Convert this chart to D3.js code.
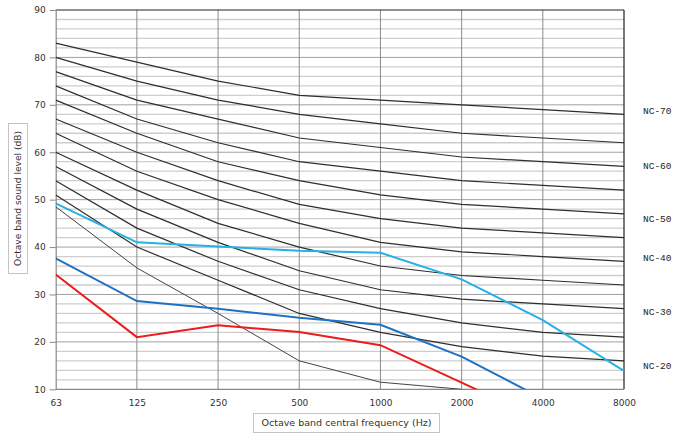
<!DOCTYPE html>
<html>
<head>
<meta charset="utf-8">
<script src="https://cdn.jsdelivr.net/npm/d3@7/dist/d3.min.js"></script>
<style>
  html, body { margin: 0; padding: 0; background: #fff; }
  svg { display: block; }
</style>
</head>
<body>
<svg id="chart" width="684" height="436"></svg>
<script>
// ---------------- DATA ----------------
const frequencies = ["63", "125", "250", "500", "1000", "2000", "4000", "8000"];
const yTicks = [10, 20, 30, 40, 50, 60, 70, 80, 90];

const nc70 = [83, 79, 75, 72, 71, 70, 69, 68];
const nc65 = [80, 75, 71, 68, 66, 64, 63, 62];
const nc60 = [77, 71, 67, 63, 61, 59, 58, 57];
const nc55 = [74, 67, 62, 58, 56, 54, 53, 52];
const nc50 = [71, 64, 58, 54, 51, 49, 48, 47];
const nc45 = [67, 60, 54, 49, 46, 44, 43, 42];
const nc40 = [64, 56, 50, 45, 41, 39, 38, 37];
const nc35 = [60, 52, 45, 40, 36, 34, 33, 32];
const nc30 = [57, 48, 41, 35, 31, 29, 28, 27];
const nc25 = [54, 44, 37, 31, 27, 24, 22, 21];
const nc20 = [51, 40, 33, 26, 22, 19, 17, 16];
const lowestCurve = [48.5, 35.6, 26, 16, 11.5, 10];

const ncCurves = [nc70, nc65, nc60, nc55, nc50, nc45, nc40, nc35, nc30, nc25, nc20];

const ncLabels = ["NC-70", "NC-60", "NC-50", "NC-40", "NC-30", "NC-20"];
const ncLabelLevels = [68.5, 57.1, 45.9, 37.5, 26.3, 14.9];

const measuredCyan = [49.2, 41, 40.1, 39.2, 38.8, 33.2, 24.6, 13.9];
const measuredBlue = [37.6, 28.6, 27, 25.1, 23.6, 16.9, 8];
const measuredRed  = [34.2, 21, 23.5, 22.1, 19.3, 11.4, 3.5];

const xTitle = "Octave band central frequency (Hz)";
const yTitle = "Octave band sound level (dB)";

// ---------------- LAYOUT ----------------
const svg = d3.select("#chart");
const pLeft = 55.7, pRight = 624, pTop = 10, pBottom = 389.3;

const x = d3.scalePoint().domain(frequencies).range([pLeft, pRight]);
const y = d3.scaleLinear().domain([10, 90]).range([pBottom, pTop]);

// clip
svg.append("defs").append("clipPath").attr("id", "plotClip")
  .append("rect").attr("x", pLeft).attr("y", pTop).attr("width", pRight - pLeft).attr("height", pBottom - pTop);

// minor horizontal grid every 2 dB
const minor = d3.range(12, 90, 2).filter(v => v % 10 !== 0);
svg.append("g").selectAll("line").data(minor).join("line")
  .attr("x1", pLeft).attr("x2", pRight)
  .attr("y1", d => y(d)).attr("y2", d => y(d))
  .attr("stroke", "#cdcdcd").attr("stroke-width", 1.3);

// major horizontal grid
svg.append("g").selectAll("line").data(yTicks.filter(v => v > 10 && v < 90)).join("line")
  .attr("x1", pLeft).attr("x2", pRight)
  .attr("y1", d => y(d)).attr("y2", d => y(d))
  .attr("stroke", "#a0a0a0").attr("stroke-width", 1);

// vertical grid
svg.append("g").selectAll("line").data(frequencies.slice(1, -1)).join("line")
  .attr("x1", d => x(d)).attr("x2", d => x(d))
  .attr("y1", pTop).attr("y2", pBottom)
  .attr("stroke", "#8a8a8a").attr("stroke-width", 1);

// borders
svg.append("line").attr("x1", pLeft).attr("x2", pRight).attr("y1", y(90)).attr("y2", y(90))
  .attr("stroke", "#222").attr("stroke-width", 1);
svg.append("line").attr("x1", pRight).attr("x2", pRight).attr("y1", pTop).attr("y2", pBottom)
  .attr("stroke", "#222").attr("stroke-width", 1.2);
svg.append("line").attr("x1", pLeft).attr("x2", pRight).attr("y1", y(10)).attr("y2", y(10))
  .attr("stroke", "#888").attr("stroke-width", 1.2);

// y axis
const yAxis = svg.append("g").attr("transform", `translate(${pLeft},0)`)
  .call(d3.axisLeft(y).tickValues(yTicks).tickSize(6).tickSizeOuter(0).tickPadding(4));
yAxis.select(".domain").attr("stroke", "#888").attr("stroke-width", 1.2);
yAxis.selectAll(".tick line").attr("stroke", "#888");
yAxis.selectAll("text").attr("font-family", "DejaVu Sans, Verdana, sans-serif")
  .attr("font-size", 9).attr("fill", "#333");

// x axis
const xAxis = svg.append("g").attr("transform", `translate(0,${pBottom})`)
  .call(d3.axisBottom(x).tickSize(0).tickPadding(10));
xAxis.select(".domain").remove();
xAxis.selectAll("text").attr("font-family", "DejaVu Sans, Verdana, sans-serif")
  .attr("font-size", 9).attr("fill", "#333");

// lines
const line = d3.line().x((d, i) => x(frequencies[i])).y(d => y(d));
const plot = svg.append("g").attr("clip-path", "url(#plotClip)");

plot.selectAll(".nc").data(ncCurves).join("path")
  .attr("class", "nc")
  .attr("d", line).attr("fill", "none")
  .attr("stroke", "#2e2e2e").attr("stroke-width", 1.2);

plot.append("path").attr("d", line(lowestCurve)).attr("fill", "none")
  .attr("stroke", "#444").attr("stroke-width", 1);

plot.append("path").attr("d", line(measuredCyan)).attr("fill", "none")
  .attr("stroke", "#25b0e6").attr("stroke-width", 2);
plot.append("path").attr("d", line(measuredBlue)).attr("fill", "none")
  .attr("stroke", "#1f72c2").attr("stroke-width", 2);
plot.append("path").attr("d", line(measuredRed)).attr("fill", "none")
  .attr("stroke", "#ec1c1c").attr("stroke-width", 2);

// NC labels
svg.append("g").selectAll("text").data(ncLabels).join("text")
  .attr("x", 643).attr("y", (d, i) => y(ncLabelLevels[i]))
  .attr("dominant-baseline", "middle")
  .attr("font-family", "Liberation Mono, DejaVu Sans Mono, monospace")
  .attr("font-size", 9.5).attr("fill", "#222")
  .text(d => d);

// y title box
svg.append("rect").attr("x", 8.5).attr("y", 123.5).attr("width", 19).attr("height", 150)
  .attr("fill", "#fff").attr("stroke", "#c4c4c4");
svg.append("text").attr("transform", "translate(18.5,198.5) rotate(-90)")
  .attr("text-anchor", "middle").attr("dominant-baseline", "middle")
  .attr("font-family", "DejaVu Sans, Verdana, sans-serif").attr("font-size", 9.5)
  .attr("fill", "#333").attr("textLength", 135).attr("lengthAdjust", "spacingAndGlyphs")
  .text(yTitle);

// x title box
svg.append("rect").attr("x", 253.5).attr("y", 413.5).attr("width", 186).attr("height", 19)
  .attr("fill", "#fff").attr("stroke", "#c4c4c4");
svg.append("text").attr("x", 346.5).attr("y", 423.5)
  .attr("text-anchor", "middle").attr("dominant-baseline", "middle")
  .attr("font-family", "DejaVu Sans, Verdana, sans-serif").attr("font-size", 9.5)
  .attr("fill", "#333").attr("textLength", 170).attr("lengthAdjust", "spacingAndGlyphs")
  .text(xTitle);
</script>
</body>
</html>
